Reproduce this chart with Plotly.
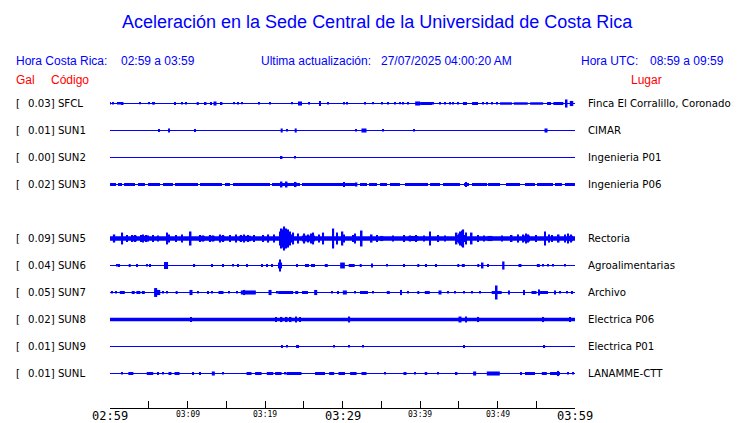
import plotly.graph_objects as go

# ---------------- data ----------------
STATIONS = ["SFCL", "SUN1", "SUN2", "SUN3", "SUN5", "SUN6", "SUN7", "SUN8", "SUN9", "SUNL"]
PEAK_GAL = ["0.03", "0.01", "0.00", "0.02", "0.09", "0.04", "0.05", "0.02", "0.01", "0.01"]
PLACES = ["Finca El Corralillo, Coronado", "CIMAR", "Ingenieria P01", "Ingenieria P06",
          "Rectoria", "Agroalimentarias", "Archivo", "Electrica P06", "Electrica P01", "LANAMME-CTT"]
# continuous background noise level (mGal, half amplitude)
BASE_NOISE = [0, 0, 0, 0, 17, 0, 0, 13, 0, 0]

# bursts: (minute after 02:59, half amplitude mGal, duration minutes)
SFCL_EV = [(0.0, 7, 0.15), (0.43, 7, 0.15), (1.07, 7, 0.15), (1.29, 7, 0.15), (1.64, 11, 0.2),
           (3.87, 5, 0.15), (5.07, 5, 0.15), (5.59, 7, 0.15), (5.72, 7, 0.15), (8.39, 11, 0.26),
           (9.25, 7, 0.15), (9.77, 7, 0.15), (11.32, 11, 0.26), (12.35, 11, 0.2), (13.03, 11, 0.2),
           (13.55, 15, 0.39), (14.41, 11, 0.2), (16.04, 5, 0.15), (16.55, 7, 0.15), (17.07, 5, 0.15),
           (19.23, 7, 0.2), (20.65, 7, 0.2), (23.44, 5, 0.15), (24.52, 15, 0.52), (25.68, 7, 0.15),
           (27.1, 19, 0.2), (28.17, 7, 0.15), (30.23, 7, 0.15), (30.62, 7, 0.15), (32.9, 7, 0.15),
           (33.97, 5, 0.15), (35.06, 7, 0.15), (35.83, 7, 0.15), (36.77, 7, 0.15), (37.42, 5, 0.15),
           (37.85, 7, 0.15), (38.49, 7, 0.15), (39.7, 15, 0.65), (40.8, 11, 1.55), (41.72, 7, 0.15),
           (42.58, 7, 0.15), (43.23, 7, 0.15), (43.87, 7, 0.15), (44.3, 7, 0.15), (44.94, 7, 0.15),
           (45.8, 11, 0.52), (47.1, 11, 0.77), (48.17, 7, 0.15), (48.6, 7, 0.15), (49.25, 7, 0.15),
           (49.9, 7, 0.15), (51.1, 9, 1.55), (53.0, 9, 1.8), (55.05, 9, 1.68), (56.65, 11, 0.52),
           (57.85, 11, 1.29), (58.93, 30, 0.2), (59.55, 19, 0.45)]
SUN1_EV = [(6.37, 11, 0.15), (7.61, 15, 0.2), (10.97, 11, 0.15), (22.15, 15, 0.26), (22.84, 7, 0.15),
           (23.96, 15, 0.26), (31.74, 7, 0.15), (32.77, 15, 0.65), (35.27, 7, 0.15), (39.23, 7, 0.15),
           (56.26, 15, 0.39)]
SUN2_EV = [(22.15, 11, 0.2), (23.87, 7, 0.15)]
SUN3_EV = [(0.39, 11, 0.77), (1.29, 11, 0.52), (2.52, 11, 1.42), (4.06, 11, 0.9), (5.68, 11, 1.55),
           (7.48, 11, 1.29), (9.87, 11, 2.97), (13.03, 11, 2.84), (15.16, 11, 0.65), (18.26, 11, 4.77),
           (22.71, 11, 3.61), (27.55, 11, 5.55), (31.1, 11, 1.55), (32.71, 11, 0.9), (33.94, 11, 1.03),
           (35.29, 11, 0.9), (36.77, 11, 1.29), (39.55, 11, 2.97), (41.94, 11, 1.29), (44.06, 11, 2.19),
           (46.0, 11, 0.65), (47.68, 11, 1.94), (49.55, 11, 1.55), (52.0, 11, 1.81), (54.19, 11, 1.29),
           (56.13, 11, 2.06), (57.87, 11, 0.9), (59.35, 11, 1.29),
           (22.15, 22, 0.2), (22.8, 22, 0.2), (23.96, 19, 0.2), (30.2, 19, 0.2), (31.82, 15, 0.2),
           (45.94, 19, 0.2)]
SUN5_EV = [(0.52, 30, 0.3), (1.59, 44, 0.2), (2.2, 26, 0.15), (2.9, 26, 0.15), (3.3, 26, 0.15),
           (3.14, 20, 0.65), (3.95, 26, 0.15), (4.3, 30, 0.15), (4.65, 26, 0.15), (4.9, 22, 0.15),
           (4.43, 20, 1.03), (5.5, 26, 0.15), (6.2, 22, 0.15), (7.39, 44, 0.2), (7.6, 30, 0.15),
           (8.5, 26, 0.15), (9.3, 30, 0.15), (10.41, 52, 0.2), (11.6, 26, 0.15), (12.0, 22, 0.15),
           (11.83, 20, 0.77), (12.9, 26, 0.15), (13.3, 22, 0.15), (13.12, 20, 0.77), (14.2, 30, 0.15),
           (14.6, 26, 0.15), (14.41, 20, 0.77), (15.5, 26, 0.15), (16.3, 30, 0.15), (16.9, 26, 0.15),
           (17.3, 30, 0.15), (17.8, 26, 0.15), (17.42, 20, 1.55), (18.6, 26, 0.15), (19.78, 26, 0.2),
           (20.43, 30, 0.2), (21.2, 30, 0.15), (21.95, 52, 0.15), (22.15, 74, 0.2), (22.35, 67, 0.15),
           (22.49, 89, 0.2), (22.7, 74, 0.15), (23.0, 67, 0.2), (23.25, 52, 0.15), (23.65, 44, 0.2),
           (22.8, 30, 1.8), (24.3, 37, 0.15), (25.1, 37, 0.15), (25.5, 30, 0.15), (25.9, 37, 0.15),
           (25.6, 22, 1.68), (26.23, 44, 0.2), (27.0, 30, 0.15), (27.52, 44, 0.2), (28.82, 74, 0.2),
           (29.3, 44, 0.2), (30.0, 52, 0.2), (30.2, 30, 0.15), (31.4, 26, 0.15), (31.6, 37, 0.2),
           (32.48, 59, 0.2), (33.77, 30, 0.2), (34.4, 26, 0.15), (35.06, 19, 0.39), (36.5, 22, 0.15),
           (38.0, 26, 0.15), (38.7, 22, 0.15), (39.5, 26, 0.15), (39.14, 19, 1.29), (40.5, 22, 0.15),
           (41.29, 52, 0.2), (42.36, 26, 0.2), (43.2, 22, 0.15), (44.73, 44, 0.2), (45.0, 37, 0.15),
           (45.16, 52, 0.2), (45.4, 59, 0.15), (45.59, 67, 0.2), (45.94, 44, 0.2), (45.3, 26, 1.3),
           (46.67, 44, 0.2), (47.5, 26, 0.15), (48.3, 22, 0.15), (49.03, 19, 0.65), (50.6, 22, 0.15),
           (51.83, 26, 0.2), (52.7, 30, 0.15), (53.3, 30, 0.15), (53.68, 37, 0.2), (54.0, 30, 0.15),
           (53.68, 22, 1.03), (55.0, 26, 0.15), (56.13, 52, 0.2), (56.7, 30, 0.15), (57.0, 26, 0.15),
           (57.9, 30, 0.2), (58.7, 30, 0.15), (59.1, 37, 0.15), (59.5, 30, 0.15), (59.35, 20, 0.77)]
SUN6_EV = [(0.86, 7, 0.15), (1.16, 11, 0.15), (2.54, 11, 0.26), (3.44, 11, 0.15), (4.73, 7, 0.15),
           (5.16, 11, 0.2), (7.23, 26, 0.52), (10.88, 11, 0.2), (13.12, 11, 0.15), (14.54, 11, 0.15),
           (15.91, 7, 0.15), (16.47, 11, 0.15), (17.72, 11, 0.15), (19.57, 11, 0.15), (20.3, 11, 0.15),
           (20.86, 11, 0.15), (21.94, 22, 0.52), (21.94, 44, 0.2), (24.09, 11, 0.15), (25.42, 11, 0.52),
           (26.19, 11, 0.52), (27.91, 11, 0.39), (30.0, 22, 0.6), (31.19, 11, 0.77), (32.35, 11, 0.26),
           (33.77, 15, 0.15), (35.7, 7, 0.15), (37.98, 11, 0.15), (39.78, 11, 0.26), (40.77, 11, 0.15),
           (42.06, 11, 0.15), (44.94, 11, 0.26), (45.59, 11, 0.39), (47.52, 11, 0.26), (48.09, 22, 0.2),
           (48.81, 11, 0.15), (50.75, 30, 0.3), (52.9, 11, 0.39), (55.27, 11, 0.39), (55.91, 7, 0.15),
           (56.56, 7, 0.15), (57.2, 7, 0.15), (58.71, 7, 0.15)]
SUN7_EV = [(0.22, 7, 0.15), (0.73, 7, 0.15), (1.59, 11, 0.65), (3.0, 11, 0.39), (3.66, 11, 0.52),
           (4.3, 11, 0.39), (5.89, 33, 0.39), (6.1, 19, 0.77), (6.88, 7, 0.15), (7.39, 7, 0.15),
           (8.6, 11, 0.26), (10.45, 19, 0.39), (11.4, 7, 0.15), (12.69, 11, 0.15), (13.12, 7, 0.15),
           (14.32, 11, 0.65), (15.4, 7, 0.15), (16.35, 7, 0.15), (17.85, 15, 1.94), (17.33, 19, 0.2),
           (20.65, 19, 0.39), (21.5, 7, 0.15), (22.67, 11, 1.94), (24.09, 11, 0.39), (25.16, 11, 0.77),
           (26.54, 19, 0.39), (28.6, 7, 0.15), (29.46, 11, 0.15), (30.3, 15, 0.52), (31.61, 7, 0.15),
           (32.77, 11, 1.03), (33.97, 7, 0.15), (35.91, 11, 0.39), (37.55, 19, 0.26), (38.49, 7, 0.15),
           (39.78, 11, 0.26), (40.94, 11, 0.65), (42.58, 15, 0.39), (43.65, 7, 0.15), (44.52, 7, 0.15),
           (45.68, 7, 0.15), (46.67, 7, 0.15), (47.74, 7, 0.15), (49.9, 11, 1.29), (49.9, 52, 0.2),
           (51.48, 15, 0.26), (53.42, 19, 0.26), (54.71, 11, 0.65), (55.35, 22, 0.2), (56.0, 11, 1.03),
           (57.42, 15, 0.26), (58.06, 7, 0.15), (58.93, 7, 0.15), (59.57, 11, 0.15)]
SUN8_EV = [(10.45, 19, 0.2), (21.42, 19, 0.2), (22.15, 19, 0.2), (22.8, 19, 0.2), (23.32, 19, 0.2),
           (24.0, 22, 0.26), (24.52, 19, 0.2), (30.88, 22, 0.2), (45.16, 22, 0.39), (45.94, 22, 0.26),
           (47.52, 19, 0.2), (55.91, 19, 0.2), (59.35, 19, 0.2)]
SUN9_EV = [(22.19, 11, 0.26), (22.8, 7, 0.15), (24.2, 11, 0.39), (28.94, 7, 0.15), (30.88, 7, 0.15),
           (32.6, 7, 0.15), (45.68, 11, 0.2), (56.04, 11, 0.2)]
SUNL_EV = [(1.51, 7, 0.15), (2.69, 11, 0.65), (5.16, 11, 0.84), (6.24, 11, 0.15), (6.88, 7, 0.15),
           (7.74, 11, 0.39), (8.65, 11, 0.65), (10.67, 11, 0.15), (11.61, 11, 0.15), (13.33, 15, 0.39),
           (14.62, 7, 0.15), (17.94, 11, 0.65), (19.14, 11, 0.84), (20.65, 11, 0.84), (21.72, 11, 0.84),
           (22.58, 7, 0.15), (23.74, 11, 1.94), (27.1, 11, 1.29), (28.6, 11, 0.65), (29.9, 11, 0.84),
           (31.4, 11, 0.84), (32.77, 11, 0.65), (35.48, 7, 0.15), (38.06, 11, 0.39), (39.35, 7, 0.15),
           (40.77, 11, 0.32), (42.28, 7, 0.15), (44.73, 11, 0.2), (47.05, 15, 0.39), (49.46, 15, 1.68),
           (53.03, 11, 0.26), (54.19, 11, 1.29), (56.04, 11, 0.65), (57.42, 11, 1.29), (57.85, 19, 0.2),
           (59.14, 7, 0.15), (59.78, 7, 0.15)]
EVENTS = [SFCL_EV, SUN1_EV, SUN2_EV, SUN3_EV, SUN5_EV, SUN6_EV, SUN7_EV, SUN8_EV, SUN9_EV, SUNL_EV]

T_START, T_END = 0, 60  # minutes after 02:59 (Costa Rica)
TICK_MIN = [0, 5, 10, 15, 20, 25, 30, 35, 40, 45, 50, 55, 60]
BIG_LABEL_MIN = [0, 30, 60]
BIG_LABEL_TXT = ["02:59", "03:29", "03:59"]
SMALL_LABEL_MIN = [10, 20, 40, 50]
SMALL_LABEL_TXT = ["03:09", "03:19", "03:39", "03:49"]

TITLE = "Aceleración en la Sede Central de la Universidad de Costa Rica"

# ---------------- layout constants ----------------
W, H = 740, 423
PX0, PX1 = 110, 575
AXIS_Y = 408
ROW0, ROW_STEP = 103.5, 27
SLOTS = [0, 1, 2, 3, 5, 6, 7, 8, 9, 10]   # SUN4 slot left empty
PX_PER_MGAL = 0.135
BLUE = "#0000ff"
RED = "#ff0000"

fig = go.Figure()

for i, st in enumerate(STATIONS):
    yc = ROW0 + ROW_STEP * SLOTS[i]
    fig.add_trace(go.Scatter(x=[T_START, T_END], y=[yc, yc], mode="lines",
                             line=dict(color=BLUE, width=1), hoverinfo="skip", showlegend=False))
    if BASE_NOISE[i] > 0:
        h = BASE_NOISE[i] * PX_PER_MGAL
        fig.add_trace(go.Bar(x=[(T_START + T_END) / 2], y=[2 * h], base=[yc - h], width=[T_END - T_START],
                             marker=dict(color=BLUE, line=dict(width=0)), hoverinfo="skip", showlegend=False))
    ev = EVENTS[i]
    ts = [e[0] for e in ev]
    amps = [max(e[1] * PX_PER_MGAL, 0.8) for e in ev]
    ws = [e[2] for e in ev]
    fig.add_trace(go.Bar(x=ts, y=[2 * a for a in amps], base=[yc - a for a in amps], width=ws,
                         marker=dict(color=BLUE, line=dict(width=0)), hoverinfo="skip", showlegend=False))


def ann(text, px, py, size, color, family, xanchor="left"):
    fig.add_annotation(x=px / W, y=1 - py / H, xref="paper", yref="paper", text=text, showarrow=False,
                       xanchor=xanchor, yanchor="middle", borderpad=0,
                       font=dict(size=size, color=color, family=family))


HDR = "Liberation Sans, Arial, sans-serif"
LBL = "DejaVu Sans, sans-serif"
MONO = "DejaVu Sans Mono, monospace"

ann(TITLE, 377, 22, 18, BLUE, HDR, "center")
ann("Hora Costa Rica:", 15, 61, 12, BLUE, HDR)
ann("02:59 a 03:59", 120, 61, 12, BLUE, HDR)
ann("Ultima actualización:", 260, 61, 12, BLUE, HDR)
ann("27/07/2025 04:00:20 AM", 380, 61, 12, BLUE, HDR)
ann("Hora UTC:", 580, 61, 12, BLUE, HDR)
ann("08:59 a 09:59", 725, 61, 12, BLUE, HDR, "right")
ann("Gal", 15, 80, 12, RED, HDR)
ann("Código", 50, 80, 12, RED, HDR)
ann("Lugar", 663, 80, 12, RED, HDR, "right")

for i, st in enumerate(STATIONS):
    yc = ROW0 + ROW_STEP * SLOTS[i]
    ann("[", 15, yc, 10.2, "black", LBL)
    ann(f"{PEAK_GAL[i]}] {st}", 27, yc, 10.2, "black", LBL)
    ann(PLACES[i], 587, yc, 10.2, "black", LBL)

for m, t in zip(BIG_LABEL_MIN, BIG_LABEL_TXT):
    fig.add_annotation(x=m, y=1 - 416 / H, xref="x", yref="paper", text=t, showarrow=False,
                       xanchor="center", yanchor="middle", borderpad=0,
                       font=dict(size=12, color="black", family=MONO))
for m, t in zip(SMALL_LABEL_MIN, SMALL_LABEL_TXT):
    fig.add_annotation(x=m, y=1 - 414 / H, xref="x", yref="paper", text=t, showarrow=False,
                       xanchor="center", yanchor="middle", borderpad=0,
                       font=dict(size=8, color="black", family=MONO))

fig.update_layout(
    width=W, height=H, margin=dict(l=0, r=0, t=0, b=0),
    paper_bgcolor="white", plot_bgcolor="white",
    barmode="overlay", showlegend=False,
    xaxis=dict(domain=[PX0 / W, PX1 / W], range=[T_START, T_END], showline=True, linecolor="black",
               linewidth=1, ticks="inside", ticklen=7, tickwidth=1, tickcolor="black",
               tickmode="array", tickvals=TICK_MIN, showticklabels=False, showgrid=False,
               zeroline=False, fixedrange=True),
    yaxis=dict(domain=[(H - AXIS_Y) / H, 1], range=[AXIS_Y, 0], visible=False, fixedrange=True),
)

fig.write_html("out.html", config={"displayModeBar": False},
               post_script="document.body.style.margin='0';document.body.style.padding='0';")
